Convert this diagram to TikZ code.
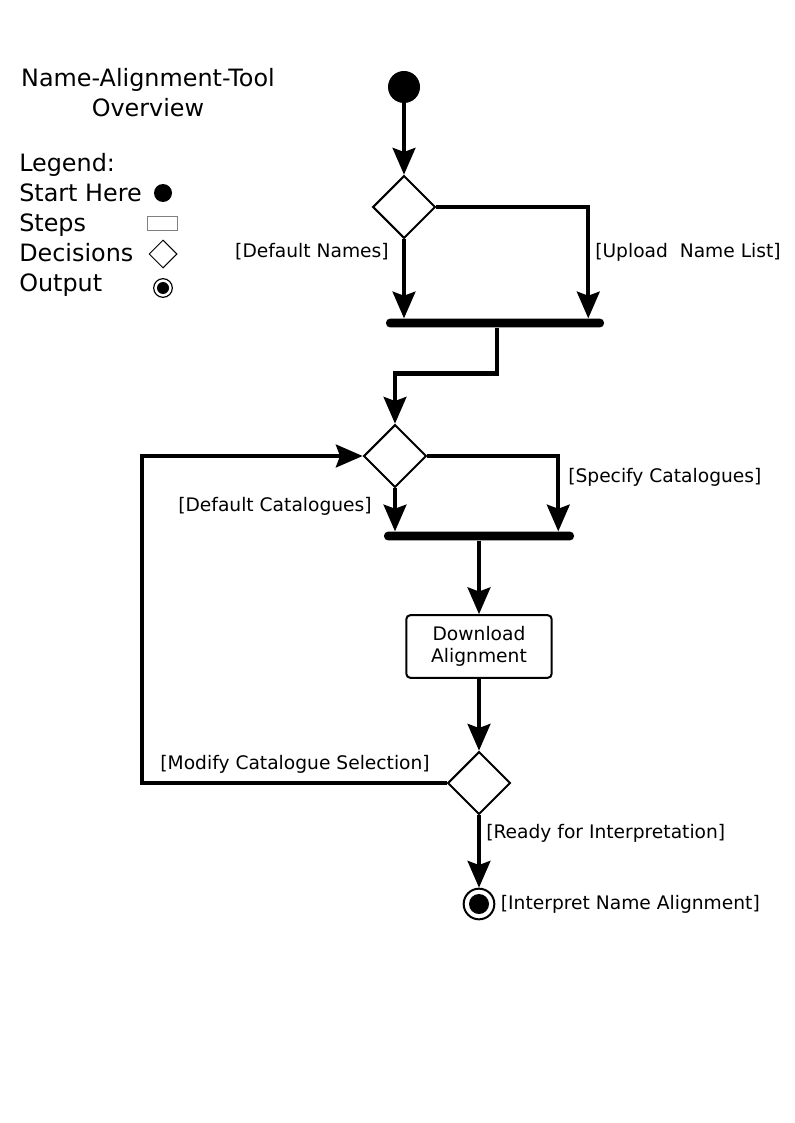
\documentclass[tikz,border=0pt]{standalone}
\usepackage{fontspec}
\setmainfont{DejaVu Sans}
\usetikzlibrary{arrows.meta,shapes.geometric,positioning}
\newcommand{\titlefont}{\fontsize{17.9}{21.5}\selectfont}
\newcommand{\guardfont}{\fontsize{14}{16.5}\selectfont}
\tikzset{
  arrow/.style={-{Stealth[length=20pt,width=17pt,inset=3pt]},line width=3.2pt},
  startdot/.style={circle,fill,inner sep=0pt,minimum size=24pt},
  decision/.style={diamond,draw,line width=1.5pt,aspect=1,inner sep=0pt,minimum size=47pt},
  stepbox/.style={rectangle,draw,line width=1.5pt,rounded corners=3pt,
    minimum width=109pt,minimum height=47pt,align=center,font=\guardfont},
  syncbar/.style={rectangle,fill,rounded corners=3pt,inner sep=0pt,minimum height=6.5pt},
  endpoint/.style={circle,draw,line width=1.5pt,minimum size=23pt,inner sep=0pt,
    path picture={\fill (path picture bounding box.center) circle (#1);}},
  endpoint/.default=7.5pt,
  guard/.style={font=\guardfont,inner sep=0pt},
  legtext/.style={font=\titlefont,inner sep=0pt,anchor=base west},
}

\begin{document}
\begin{tikzpicture}[x=0.75pt,y=-0.75pt]
  \useasboundingbox (0,0) rectangle (794,1123);

  % title and legend
  \node[font=\titlefont,inner sep=0pt,anchor=base] (title) at (148,87) {Name-Alignment-Tool};
  \node[font=\titlefont,inner sep=0pt,anchor=base] (title2) at (148,117) {Overview};
  \node[legtext] (legHead) at (19,172) {Legend:};
  \node[legtext] (legStartT) at (19,202) {Start Here};
  \node[legtext] (legStepT) at (19,232) {Steps};
  \node[legtext] (legDecT) at (19,262) {Decisions};
  \node[legtext] (legOutT) at (19,291) {Output};
  \node[startdot,minimum size=13.5pt] (legStart) at (163,193) {};
  \node[draw=black!50,line width=0.6pt,minimum width=22pt,minimum height=10pt,inner sep=0pt] (legStep) at (162.5,223.5) {};
  \node[decision,line width=0.75pt,minimum size=21pt] (legDec) at (163,254) {};
  \node[endpoint=4.5pt,line width=0.9pt,minimum size=14pt] (legOut) at (163,288) {};

  % activity flow
  \node[startdot] (start) at (404,87) {};
  \node[decision] (dec1) at (404,207) {};
  \node[syncbar,minimum width=163.5pt] (bar1) at (495,323) {};
  \node[decision] (dec2) at (395,456) {};
  \node[syncbar,minimum width=142.5pt] (bar2) at (479,536) {};
  \node[stepbox] (download) at (479,646.5) {Download\\Alignment};
  \node[decision] (dec3) at (479,783) {};
  \node[endpoint] (out) at (479,904) {};

  \draw[arrow] (start) -- (dec1);
  \draw[arrow] (dec1.south) -- (dec1.south |- bar1.north);
  \draw[arrow] (dec1.east) -| ([xshift=-12pt]bar1.north east);
  \draw[arrow] ([xshift=1.5pt]bar1.south) -- ++(0,46) -| (dec2.north);
  \draw[arrow] (dec2.south) -- (dec2.south |- bar2.north);
  \draw[arrow] (dec2.east) -| ([xshift=-12pt]bar2.north east);
  \draw[arrow] (bar2) -- (download);
  \draw[arrow] (download) -- (dec3);
  \draw[arrow] (dec3.west) -- ++(-305,0) |- (dec2.west);
  \draw[arrow] (dec3) -- (out);

  \node[guard,anchor=east] (gDefNames) at (389,252) {[Default Names]};
  \node[guard,anchor=west] (gUpload) at (595,252) {[Upload\ \ Name List]};
  \node[guard,anchor=west] (gSpecCat) at (568,477) {[Specify Catalogues]};
  \node[guard,anchor=east] (gDefCat) at (372,506) {[Default Catalogues]};
  \node[guard,anchor=east] (gModify) at (430,764) {[Modify Catalogue Selection]};
  \node[guard,anchor=west] (gReady) at (486,833) {[Ready for Interpretation]};
  \node[guard,right=4pt of out] (gInterp) {[Interpret Name Alignment]};
\end{tikzpicture}
\end{document}
